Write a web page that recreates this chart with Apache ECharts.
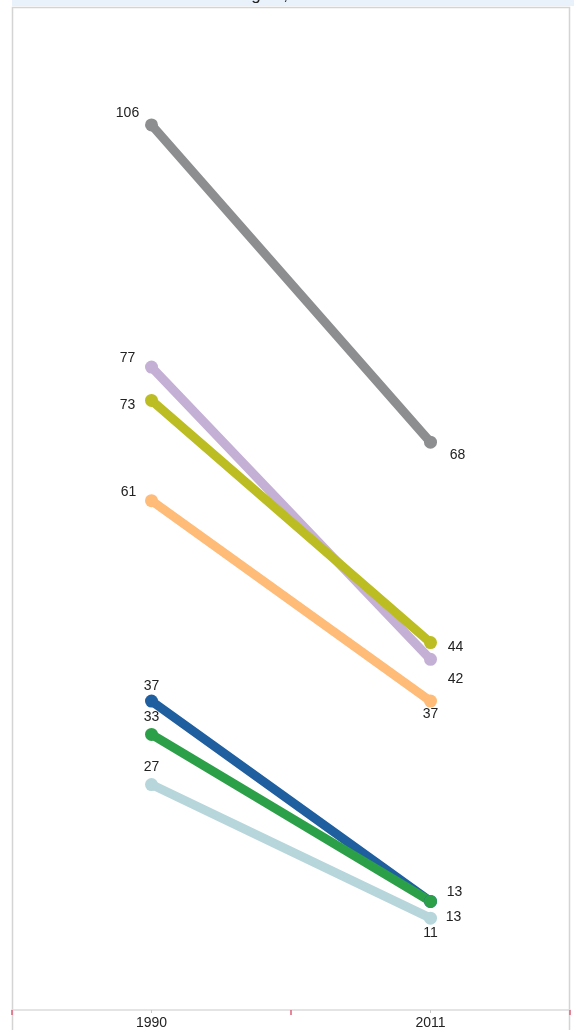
<!DOCTYPE html>
<html><head><meta charset="utf-8">
<script src="https://cdn.jsdelivr.net/npm/echarts@6/dist/echarts.min.js"></script>
<style>html,body{margin:0;padding:0;background:#fff}#c{width:574px;height:1030px}</style>
</head><body><div id="c"></div>
<script>
const categories = ['1990', '2011'];
const seriesNames = ['Gray', 'Lavender', 'Olive', 'Orange', 'Light blue', 'Blue', 'Green'];
const grayValues = [106, 68];
const lavenderValues = [77, 42];
const oliveValues = [73, 44];
const orangeValues = [61, 37];
const lightBlueValues = [27, 11];
const blueValues = [37, 13];
const greenValues = [33, 13];
const yMin = 0, yMax = 120;

const colors = ['#8d8e90', '#c5b0d5', '#bcbd22', '#ffbb78', '#b7d6dc', '#1f5fa0', '#2ca048'];
const allValues = [grayValues, lavenderValues, oliveValues, orangeValues, lightBlueValues, blueValues, greenValues];
const labelOffsets = [
  [[-24, -12], [27, 13]],
  [[-24, -9], [25, 20]],
  [[-24, 5], [25, 5]],
  [[-23, -9], [0, 13]],
  [[0, -17], [0, 15]],
  [[0, -15], [24, -9]],
  [[0, -17], [23, 16]]
];
const FONT = 'Liberation Sans, Arial, sans-serif';

const chart = echarts.init(document.getElementById('c'), null, {renderer: 'canvas'});
const series = allValues.map((vals, i) => ({
  name: seriesNames[i],
  type: 'line',
  data: vals.map((v, j) => ({
    value: v,
    label: {show: true, position: 'inside', offset: labelOffsets[i][j]}
  })),
  symbol: 'circle',
  symbolSize: 13,
  lineStyle: {width: 9, color: colors[i], cap: 'round'},
  itemStyle: {color: colors[i]},
  label: {color: '#222', fontSize: 14, fontFamily: FONT},
  emphasis: {disabled: true},
  animation: false
}));

chart.setOption({
  animation: false,
  graphic: [
    {type: 'rect', shape: {x: 12, y: 0, width: 562, height: 6}, style: {fill: '#e9f1fb'}, z: 0},
    {type: 'text', x: 66, y: 4, style: {text: 'Child Deaths in Each Region, 1990 and 2011', font: '17px ' + FONT, fill: '#222', verticalAlign: 'bottom', align: 'left'}, z: 1},
    {type: 'rect', shape: {x: 12.5, y: 7.5, width: 557, height: 1040}, style: {fill: 'none', stroke: '#d4d4d4', lineWidth: 1.5}, z: 0}
  ],
  grid: {left: 12, right: 4, top: 8, bottom: 20},
  xAxis: [{
    type: 'category',
    data: categories,
    boundaryGap: true,
    axisLine: {lineStyle: {color: '#dcdcdc', width: 1.5}},
    axisTick: {show: true, length: 5, lineStyle: {color: '#e0607a', width: 1.5}},
    axisLabel: {color: '#222', fontSize: 14, margin: 6, fontFamily: FONT},
    splitLine: {show: false}
  }, {
    type: 'category',
    data: categories,
    position: 'bottom',
    boundaryGap: true,
    axisLine: {show: false},
    axisTick: {show: true, alignWithLabel: true, length: 3, lineStyle: {color: '#c8c8c8'}},
    axisLabel: {show: false},
    splitLine: {show: false}
  }],
  yAxis: {
    type: 'value', min: yMin, max: yMax, show: false, splitLine: {show: false}
  },
  series: series
});
</script>
</body></html>
